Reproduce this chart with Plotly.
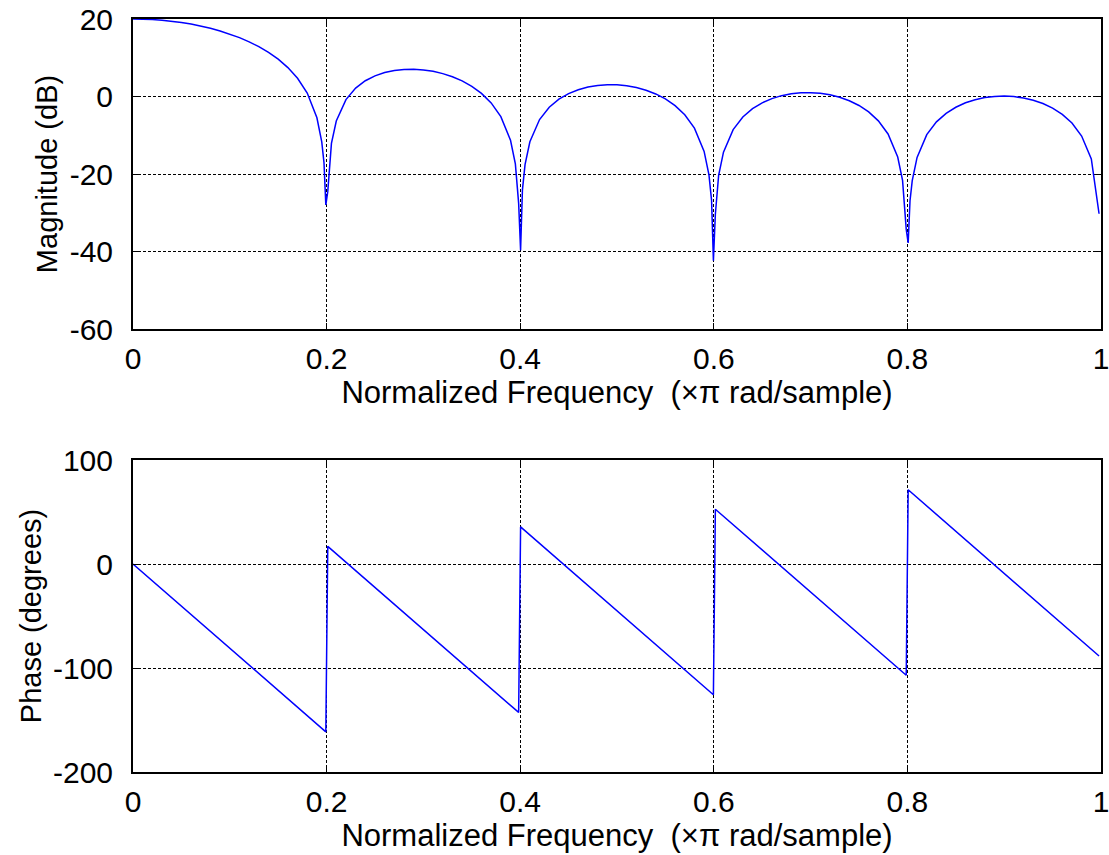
import plotly.graph_objects as go
from plotly.subplots import make_subplots

# Magnitude response (normalized frequency, dB)
freq_mag = [0.00, 0.01, 0.02, 0.03, 0.04, 0.05, 0.06, 0.07, 0.08, 0.09,
            0.10, 0.11, 0.12, 0.13, 0.14, 0.15, 0.16, 0.17, 0.18, 0.19,
            0.195, 0.1973, 0.1992, 0.2012, 0.205,
            0.21, 0.22, 0.23, 0.24, 0.25, 0.26, 0.27, 0.28, 0.29, 0.30,
            0.31, 0.32, 0.33, 0.34, 0.35, 0.36, 0.37, 0.38, 0.39,
            0.395, 0.3984, 0.4004, 0.4023, 0.405,
            0.41, 0.42, 0.43, 0.44, 0.45, 0.46, 0.47, 0.48, 0.49, 0.50,
            0.51, 0.52, 0.53, 0.54, 0.55, 0.56, 0.57, 0.58, 0.59,
            0.595, 0.5977, 0.5996, 0.6016, 0.605,
            0.61, 0.62, 0.63, 0.64, 0.65, 0.66, 0.67, 0.68, 0.69, 0.70,
            0.71, 0.72, 0.73, 0.74, 0.75, 0.76, 0.77, 0.78, 0.79,
            0.795, 0.7988, 0.8008, 0.8027, 0.805,
            0.81, 0.82, 0.83, 0.84, 0.85, 0.86, 0.87, 0.88, 0.89, 0.90,
            0.91, 0.92, 0.93, 0.94, 0.95, 0.96, 0.97, 0.98, 0.99, 0.998]
mag_db = [20.00, 19.96, 19.86, 19.68, 19.43, 19.10, 18.69, 18.19, 17.60, 16.91,
          16.11, 15.19, 14.11, 12.86, 11.39, 9.63, 7.47, 4.71, 0.89, -5.48,
          -11.69, -17.08, -27.99, -24.55, -12.11,
          -6.32, -0.80, 2.17, 4.07, 5.33, 6.18, 6.71, 6.98, 7.03, 6.86,
          6.49, 5.91, 5.10, 4.02, 2.63, 0.80, -1.65, -5.20, -11.31,
          -17.40, -27.59, -39.65, -24.10, -17.58,
          -11.68, -5.95, -2.78, -0.70, 0.74, 1.75, 2.44, 2.86, 3.04, 3.01,
          2.77, 2.31, 1.62, 0.66, -0.63, -2.35, -4.71, -8.16, -14.17,
          -20.22, -26.80, -42.40, -30.40, -20.32,
          -14.37, -8.55, -5.30, -3.15, -1.63, -0.54, 0.22, 0.71, 0.97, 1.00,
          0.83, 0.43, -0.20, -1.10, -2.32, -3.98, -6.28, -9.67, -15.63,
          -21.65, -34.30, -37.80, -26.90, -21.69,
          -15.72, -9.85, -6.55, -4.34, -2.77, -1.63, -0.82, -0.28, 0.02, 0.11,
          -0.02, -0.37, -0.95, -1.80, -2.98, -4.60, -6.85, -10.20, -16.11, -30.26]

# Phase response (degrees)
freq_phase = [0.0, 0.1992, 0.2012, 0.3984, 0.4004, 0.5996, 0.6016, 0.7988, 0.8008, 0.998]
phase_deg = [0.0, -161.4, 17.0, -142.7, 35.7, -125.7, 52.7, -107.0, 71.4, -88.4]

x_ticks = [0, 0.2, 0.4, 0.6, 0.8, 1.0]
x_tick_labels = ["0", "0.2", "0.4", "0.6", "0.8", "1"]
mag_ticks = [-60, -40, -20, 0, 20]
mag_tick_labels = ["-60", "-40", "-20", "0", "20"]
phase_ticks = [-200, -100, 0, 100]
phase_tick_labels = ["-200", "-100", "0", "100"]

xlabel = "Normalized Frequency \u00a0(\u00d7\u03c0 rad/sample)"

FONT = "Liberation Sans, Arial, sans-serif"
TICK_SIZE = 30
XTITLE_SIZE = 31
YTITLE_SIZE = 29

fig = make_subplots(rows=2, cols=1)

fig.add_trace(go.Scatter(x=freq_mag, y=mag_db, mode="lines",
                         line=dict(color="#0000ff", width=1.5),
                         showlegend=False, hoverinfo="skip"), row=1, col=1)
fig.add_trace(go.Scatter(x=freq_phase, y=phase_deg, mode="lines",
                         line=dict(color="#0000ff", width=1.5),
                         showlegend=False, hoverinfo="skip"), row=2, col=1)

axis_common = dict(
    showline=True, linecolor="black", linewidth=2, mirror="allticks",
    ticks="inside", ticklen=6, tickcolor="black", tickwidth=1,
    showgrid=True, gridcolor="black", gridwidth=1, griddash="3px,2px",
    zeroline=False, automargin=False, ticklabeloverflow="allow",
    tickfont=dict(family=FONT, size=TICK_SIZE, color="black"),
)

for r, dom in ((1, [0.5883, 1.0]), (2, [0.0, 0.4143])):
    fig.update_xaxes(range=[0, 1], tickvals=x_ticks, ticktext=x_tick_labels,
                     title=dict(text=xlabel, font=dict(family=FONT, size=XTITLE_SIZE, color="black"),
                                standoff=2),
                     ticklabelstandoff=2,
                     row=r, col=1, **axis_common)
    fig.update_yaxes(domain=dom, row=r, col=1)

fig.update_yaxes(range=[-60, 20], tickvals=mag_ticks, ticktext=mag_tick_labels,
                 title=dict(text="Magnitude (dB)", font=dict(family=FONT, size=YTITLE_SIZE, color="black"),
                            standoff=3),
                 ticklabelstandoff=12, row=1, col=1, **axis_common)
fig.update_yaxes(range=[-200, 100], tickvals=phase_ticks, ticktext=phase_tick_labels,
                 title=dict(text="Phase (degrees)", font=dict(family=FONT, size=YTITLE_SIZE, color="black"),
                            standoff=3),
                 ticklabelstandoff=12, row=2, col=1, **axis_common)

fig.update_layout(
    width=1109, height=855,
    margin=dict(l=133, r=8, t=19, b=83),
    plot_bgcolor="white", paper_bgcolor="white",
    font=dict(family=FONT, size=TICK_SIZE, color="black"),
)

fig.write_html("out.html", config={"displayModeBar": False},
               post_script="document.body.style.margin='0';")
